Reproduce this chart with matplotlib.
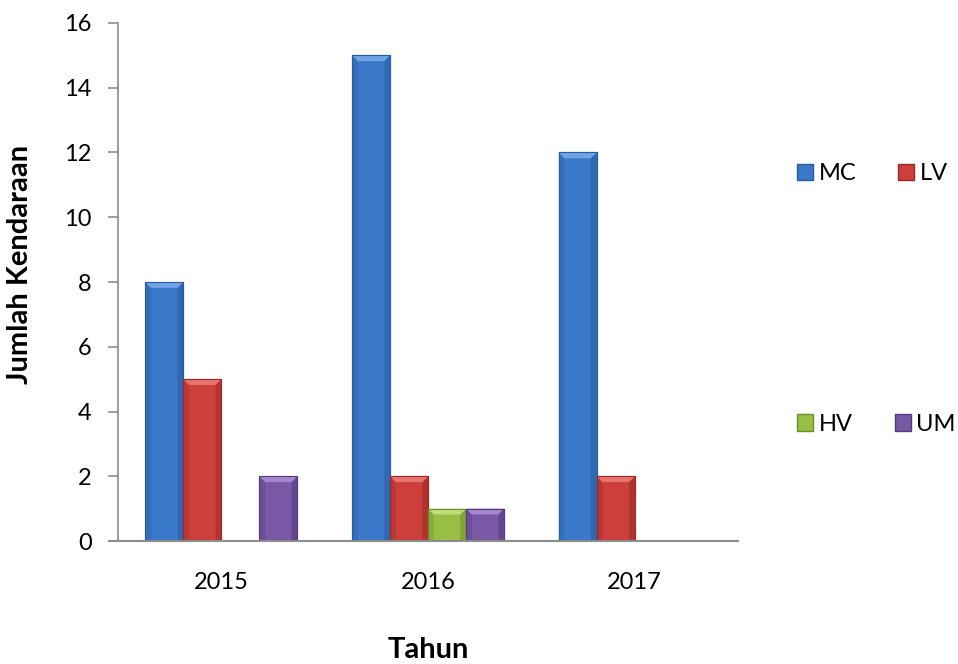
import matplotlib
matplotlib.use("Agg")
import matplotlib.pyplot as plt
from matplotlib.patches import Polygon, Rectangle, Patch
import numpy as np

years = ["2015", "2016", "2017"]
series = ["MC", "LV", "HV", "UM"]
mc = [8, 15, 12]
lv = [5, 2, 2]
hv = [0, 1, 0]
um = [2, 1, 0]
values = [mc, lv, hv, um]
y_ticks = [0, 2, 4, 6, 8, 10, 12, 14, 16]

base_colors = ["#3A78C9", "#CC3F3A", "#98BE45", "#7B58A6"]
dark_colors = ["#285C9E", "#9A2A27", "#6F8E2E", "#553A7D"]
light_colors = ["#6FA3E6", "#E87470", "#C0DE78", "#A386CC"]

plt.rcParams["font.family"] = ["Lato", "DejaVu Sans"]

fig = plt.figure(figsize=(9.58, 6.64), dpi=100)
ax = fig.add_axes([0.1232, 0.1852, 0.6472, 0.7802])

width = 0.184
x = np.arange(len(years))
ax.set_xlim(-0.5, len(years) - 0.5)
ax.set_ylim(0, 16)

# bevel sizes in data units (about 6 px)
bx = 0.028
by = 0.18


def bevel_bar(x0, h, i):
    if h <= 0:
        return
    x1 = x0 + width
    ax.add_patch(Rectangle((x0, 0), width, h, facecolor=base_colors[i],
                           edgecolor=dark_colors[i], linewidth=0.8, zorder=3))
    # darker side strips
    ax.add_patch(Polygon([(x0, 0), (x0 + bx, 0), (x0 + bx, h - by), (x0, h)],
                         closed=True, facecolor=dark_colors[i], alpha=0.35,
                         linewidth=0, zorder=4))
    ax.add_patch(Polygon([(x1, 0), (x1 - bx, 0), (x1 - bx, h - by), (x1, h)],
                         closed=True, facecolor=dark_colors[i], alpha=0.55,
                         linewidth=0, zorder=4))
    # light top bevel
    ax.add_patch(Polygon([(x0, h), (x1, h), (x1 - bx, h - by), (x0 + bx, h - by)],
                         closed=True, facecolor=light_colors[i],
                         linewidth=0, zorder=4))
    ax.add_patch(Rectangle((x0, 0), width, h, facecolor="none",
                           edgecolor=dark_colors[i], linewidth=0.8, zorder=5))


for i, vals in enumerate(values):
    offset = (i - 1.5) * width
    # invisible bars carry the data range; bevelled patches draw the look
    ax.bar(x + offset, vals, width, color=base_colors[i], label=series[i],
           alpha=0, zorder=1)
    for xi, v in zip(x, vals):
        bevel_bar(xi + offset - width / 2, v, i)

ax.set_xticks(x)
ax.set_xticklabels(years, fontsize=17)
ax.set_yticks(y_ticks)
ax.set_yticklabels([str(t) for t in y_ticks], fontsize=17)
ax.tick_params(axis="x", length=0, pad=22)
ax.tick_params(axis="y", length=7, width=1.2, color="#8C8C8C", pad=12)

for side in ["top", "right"]:
    ax.spines[side].set_visible(False)
ax.spines["left"].set_color("#8C8C8C")
ax.spines["left"].set_linewidth(1.2)
ax.spines["bottom"].set_visible(False)
ax.plot([-0.5 - 9 / 206.7, 2.5], [0, 0], color="#8C8C8C", lw=1.5,
        clip_on=False, zorder=6)

ax.set_ylabel("Jumlah Kendaraan", fontsize=21, fontweight="bold")
ax.yaxis.set_label_coords(-0.137, 0.533)
ax.set_xlabel("Tahun", fontsize=21, fontweight="bold", labelpad=32)

# legend: two rows, far apart
handles = [Patch(facecolor=base_colors[i], edgecolor=dark_colors[i]) for i in range(4)]
common = dict(loc="center left", ncol=2, frameon=False, fontsize=17,
              handlelength=0.68, handleheight=0.68, handletextpad=0.25,
              columnspacing=1.75)
fig.legend(handles[:2], series[:2], bbox_to_anchor=(0.810, 0.738), **common)
fig.legend(handles[2:], series[2:], bbox_to_anchor=(0.810, 0.361), **common)

fig.savefig("out.png", dpi=100)
